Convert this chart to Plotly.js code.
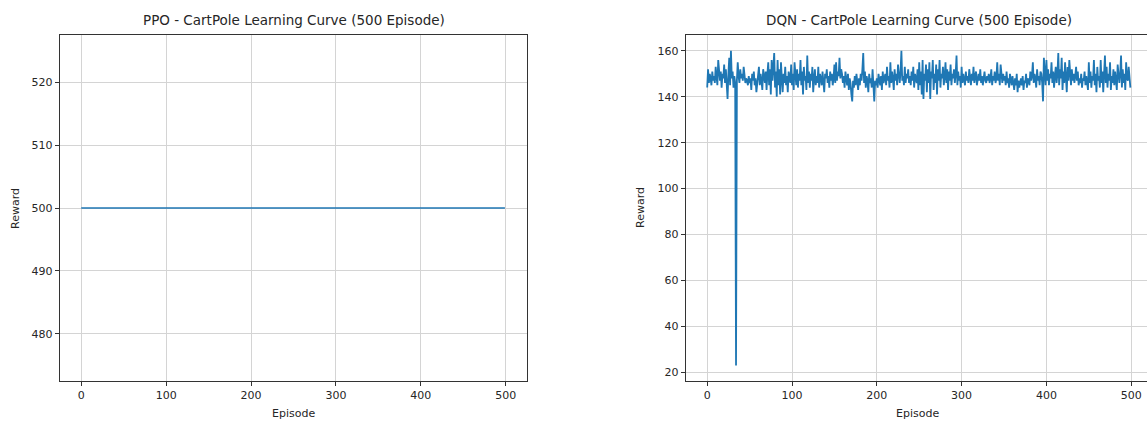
<!DOCTYPE html>
<html>
<head>
<meta charset="utf-8">
<script src="https://cdn.plot.ly/plotly-3.0.1.min.js"></script>
<style>
  html, body { margin: 0; padding: 0; background: #fff; overflow: hidden; }
  #chart { width: 1147px; height: 421px; }
</style>
</head>
<body>
<div id="chart"></div>
<script>
// ---- Data ----
const ppoTitle = "PPO - CartPole Learning Curve (500 Episode)";
const dqnTitle = "DQN - CartPole Learning Curve (500 Episode)";
const xLabel = "Episode";
const yLabel = "Reward";

// PPO: reward stays at the CartPole maximum (500) for every episode
const ppoReward = new Array(500).fill(500);

// DQN: per-episode reward
const dqnReward = [
  144,152,146,150,148,145,151,147,149,146,
  153,148,145,156,149,147,151,144,150,148,
  154,146,152,143,139,150,157,145,160,148,
  151,144,149,146,23,147,155,149,146,152,
  148,150,147,153,149,146,148,147,145,149,
  146,148,143,150,147,151,145,148,142,147,
  149,153,145,150,147,143,152,148,146,151,
  143,150,155,145,152,141,156,147,153,159,
  144,151,140,156,145,152,141,155,148,142,
  150,146,153,145,149,142,151,148,146,154,
  145,150,143,155,148,145,152,144,150,147,
  156,145,151,141,153,147,149,143,158,146,
  151,144,150,147,153,142,148,152,145,149,
  146,153,144,150,148,145,151,147,142,150,
  148,152,146,149,144,151,147,150,145,148,
  154,146,155,147,151,149,157,148,152,150,
  146,149,144,151,147,145,150,143,148,146,
  141,138,147,144,149,145,150,146,143,148,
  145,150,147,152,159,146,151,144,149,147,
  142,150,146,148,144,152,140,138,147,145,
  148,144,150,147,145,149,143,151,146,148,
  150,145,153,147,149,144,155,146,151,148,
  143,152,147,150,145,154,148,146,151,160,
  147,149,145,153,146,150,148,152,146,149,
  145,151,147,153,144,150,148,146,152,143,
  155,145,151,141,156,139,150,147,154,142,
  152,146,155,139,151,148,156,143,150,146,
  154,141,152,147,156,144,150,148,153,145,
  149,155,146,152,143,151,147,154,145,150,
  148,152,146,150,158,145,151,147,149,144,
  153,146,150,148,145,151,147,149,146,152,
  148,145,150,147,153,146,149,151,145,148,
  150,147,152,146,149,145,148,151,147,146,
  149,147,150,146,148,152,145,149,147,151,
  146,148,155,147,150,145,154,148,146,150,
  147,149,145,151,146,148,144,150,147,145,
  149,146,143,148,145,150,142,147,144,146,
  148,145,149,143,147,146,150,144,148,147,
  145,151,147,149,155,146,150,148,144,152,
  147,149,145,151,150,146,138,157,151,145,
  156,147,152,145,150,148,155,146,151,144,
  149,153,146,150,159,145,152,148,157,143,
  151,146,155,148,142,153,147,156,149,145,
  152,147,150,146,149,153,147,151,145,148,
  146,150,144,148,147,151,145,149,146,143,
  155,146,151,144,149,147,156,145,150,142,
  153,147,149,144,156,146,151,142,150,158,
  146,153,144,150,147,155,143,149,146,152,
  145,151,147,143,154,148,146,150,158,144,
  152,146,150,143,155,148,147,153,149,144
];

const ppoEpisode = ppoReward.map((_, i) => i);
const dqnEpisode = dqnReward.map((_, i) => i);

// ---- Layout geometry (pixels in the 1147x421 picture) ----
const W = 1147, H = 421;
const px = v => v / W;
const py = v => 1 - v / H;

const lineColor = '#1f77b4';
const gridColor = '#d4d4d4';
const axisColor = '#333333';
const textColor = '#262626';
const font = { family: 'DejaVu Sans, sans-serif', size: 11, color: textColor };

function xAxis(domain, range) {
  return {
    domain, range, dtick: 100, tick0: 0,
    showgrid: true, gridcolor: gridColor, gridwidth: 1,
    zeroline: false, showline: true, mirror: true,
    linecolor: axisColor, linewidth: 1.2,
    ticks: 'outside', ticklen: 4, tickwidth: 1, tickcolor: axisColor,
    tickfont: font, fixedrange: true
  };
}
function yAxis(domain, range, dtick, anchor, mirror) {
  return {
    domain, range, dtick, anchor,
    showgrid: true, gridcolor: gridColor, gridwidth: 1,
    zeroline: false, showline: true, mirror,
    linecolor: axisColor, linewidth: 1.2,
    ticks: 'outside', ticklen: 4, tickwidth: 1, tickcolor: axisColor,
    tickfont: font, fixedrange: true
  };
}

const traces = [
  { x: ppoEpisode, y: ppoReward, type: 'scatter', mode: 'lines',
    line: { color: lineColor, width: 1.6 }, xaxis: 'x', yaxis: 'y', hoverinfo: 'skip' },
  { x: dqnEpisode, y: dqnReward, type: 'scatter', mode: 'lines',
    line: { color: lineColor, width: 1.8 }, xaxis: 'x2', yaxis: 'y2', hoverinfo: 'skip' }
];

const yDom = [py(381), py(35)];
const layout = {
  width: W, height: H,
  margin: { l: 0, r: 0, t: 0, b: 0, pad: 0 },
  paper_bgcolor: '#ffffff', plot_bgcolor: '#ffffff',
  showlegend: false,
  xaxis: Object.assign(xAxis([px(60), px(527)], [-25, 525]), { anchor: 'y' }),
  yaxis: yAxis(yDom, [472.5, 527.5], 10, 'x', true),
  xaxis2: Object.assign(xAxis([px(686), 1], [-25, 518.6]), { anchor: 'y2' }),
  yaxis2: yAxis(yDom, [16.2, 166.9], 20, 'x2', false),
  annotations: [
    { text: ppoTitle, xref: 'paper', yref: 'paper', x: px(293.5), y: py(20),
      xanchor: 'center', yanchor: 'middle', showarrow: false,
      font: { family: font.family, size: 13.5, color: textColor } },
    { text: dqnTitle, xref: 'paper', yref: 'paper', x: px(919), y: py(20),
      xanchor: 'center', yanchor: 'middle', showarrow: false,
      font: { family: font.family, size: 13.5, color: textColor } },
    { text: xLabel, xref: 'paper', yref: 'paper', x: px(293.5), y: py(413),
      xanchor: 'center', yanchor: 'middle', showarrow: false, font },
    { text: xLabel, xref: 'paper', yref: 'paper', x: px(917), y: py(413),
      xanchor: 'center', yanchor: 'middle', showarrow: false, font },
    { text: yLabel, xref: 'paper', yref: 'paper', x: px(15), y: py(208),
      xanchor: 'center', yanchor: 'middle', showarrow: false, textangle: -90, font },
    { text: yLabel, xref: 'paper', yref: 'paper', x: px(640), y: py(208),
      xanchor: 'center', yanchor: 'middle', showarrow: false, textangle: -90, font }
  ]
};

Plotly.newPlot('chart', traces, layout, { staticPlot: true, displayModeBar: false });
</script>
</body>
</html>
